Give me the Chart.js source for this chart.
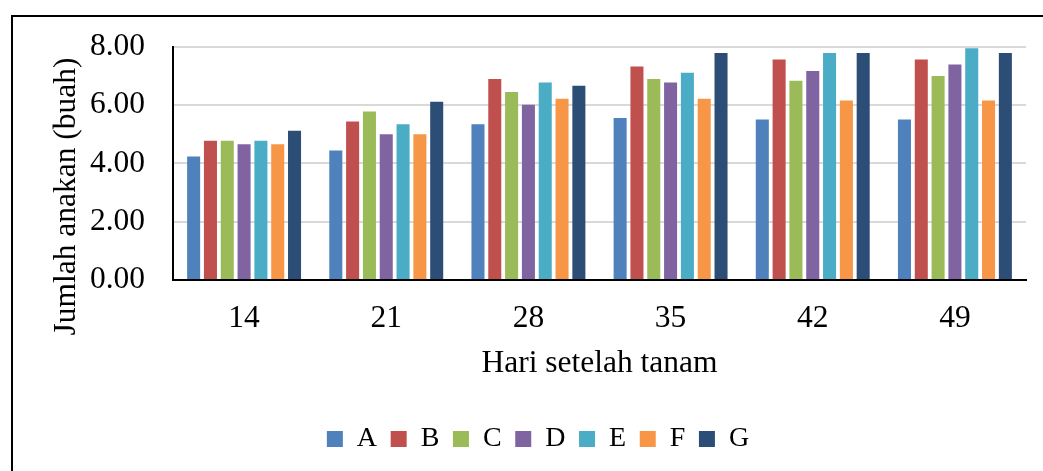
<!DOCTYPE html>
<html><head><meta charset="utf-8">
<script src="https://cdn.jsdelivr.net/npm/chart.js@4/dist/chart.umd.min.js"></script>
<style>
html,body{margin:0;padding:0;background:#fff;}
#wrap{position:relative;width:1043px;height:471px;overflow:hidden;background:#fff;}
#frame{position:absolute;left:11px;top:15px;width:1100px;height:500px;border-top:2px solid #000;border-left:2px solid #000;box-sizing:border-box;}
canvas{position:absolute;left:0;top:0;}
</style></head>
<body><div id="wrap"><div id="frame"></div><canvas id="c" width="1043" height="471"></canvas></div>
<script>
const categories = ['14','21','28','35','42','49'];
const seriesNames = ['A','B','C','D','E','F','G'];
const A = [4.24,4.44,5.34,5.56,5.51,5.51];
const B = [4.78,5.44,6.90,7.33,7.57,7.57];
const C = [4.78,5.78,6.45,6.90,6.84,7.00];
const D = [4.66,5.00,6.01,6.78,7.17,7.40];
const E = [4.78,5.34,6.78,7.11,7.79,7.95];
const F = [4.66,5.00,6.22,6.22,6.16,6.16];
const G = [5.12,6.12,6.67,7.79,7.79,7.79];
const yTicks = [0,2,4,6,8];
const xTitle = 'Hari setelah tanam';
const yTitle = 'Jumlah anakan (buah)';
const colors = ['#4F81BD','#C0504D','#9BBB59','#8064A2','#4BACC6','#F79646','#2C4D75'];
const values = [A,B,C,D,E,F,G];
const FONT = '"Liberation Serif", "Times New Roman", serif';

const yTitlePlugin = {
  id: 'yTitle',
  afterDraw(chart) {
    const ctx = chart.ctx;
    ctx.save();
    ctx.translate(75, 196.5);
    ctx.rotate(-Math.PI / 2);
    ctx.font = '31.5px ' + FONT;
    ctx.fillStyle = '#000';
    ctx.textAlign = 'center';
    ctx.textBaseline = 'alphabetic';
    ctx.fillText(yTitle, 0, 0);
    ctx.restore();
  }
};

new Chart(document.getElementById('c'), {
  type: 'bar',
  data: {
    labels: categories,
    datasets: seriesNames.map((n, i) => ({
      label: n,
      data: values[i],
      backgroundColor: colors[i],
      borderWidth: 0,
      categoryPercentage: 0.828,
      barPercentage: 0.775
    }))
  },
  options: {
    responsive: false,
    animation: false,
    devicePixelRatio: 1,
    layout: { padding: { left: 50, right: 17, top: 46, bottom: 8 } },
    plugins: {
      legend: {
        position: 'bottom',
        labels: {
          boxWidth: 16, boxHeight: 16, padding: 13.6,
          color: '#000',
          font: { family: FONT, size: 28 }
        }
      },
      tooltip: { enabled: false },
      title: { display: false }
    },
    scales: {
      x: {
        grid: { display: false, drawTicks: false },
        border: { display: true, color: '#000', width: 2 },
        ticks: { color: '#000', font: { family: FONT, size: 31.5 }, padding: 19.5, maxRotation: 0 },
        title: { display: true, text: xTitle, color: '#000', font: { family: FONT, size: 31.5 }, padding: { top: 0, bottom: 29 } },
        afterFit(s) { s.height = 131.5; }
      },
      y: {
        min: 0, max: 8,
        afterBuildTicks(s) { s.ticks = yTicks.map(v => ({ value: v })); },
        grid: {
          drawTicks: false, lineWidth: 2,
          color: (c) => (c.tick && c.tick.value === 0) ? 'rgba(0,0,0,0)' : '#d9d9d9'
        },
        border: { display: true, color: '#000', width: 2 },
        ticks: { color: '#000', font: { family: FONT, size: 31.5 }, padding: 28, callback: (v) => Number(v).toFixed(2) },
        afterFit(s) { s.width = 123; }
      }
    }
  },
  plugins: [yTitlePlugin]
});
</script>
</body></html>
